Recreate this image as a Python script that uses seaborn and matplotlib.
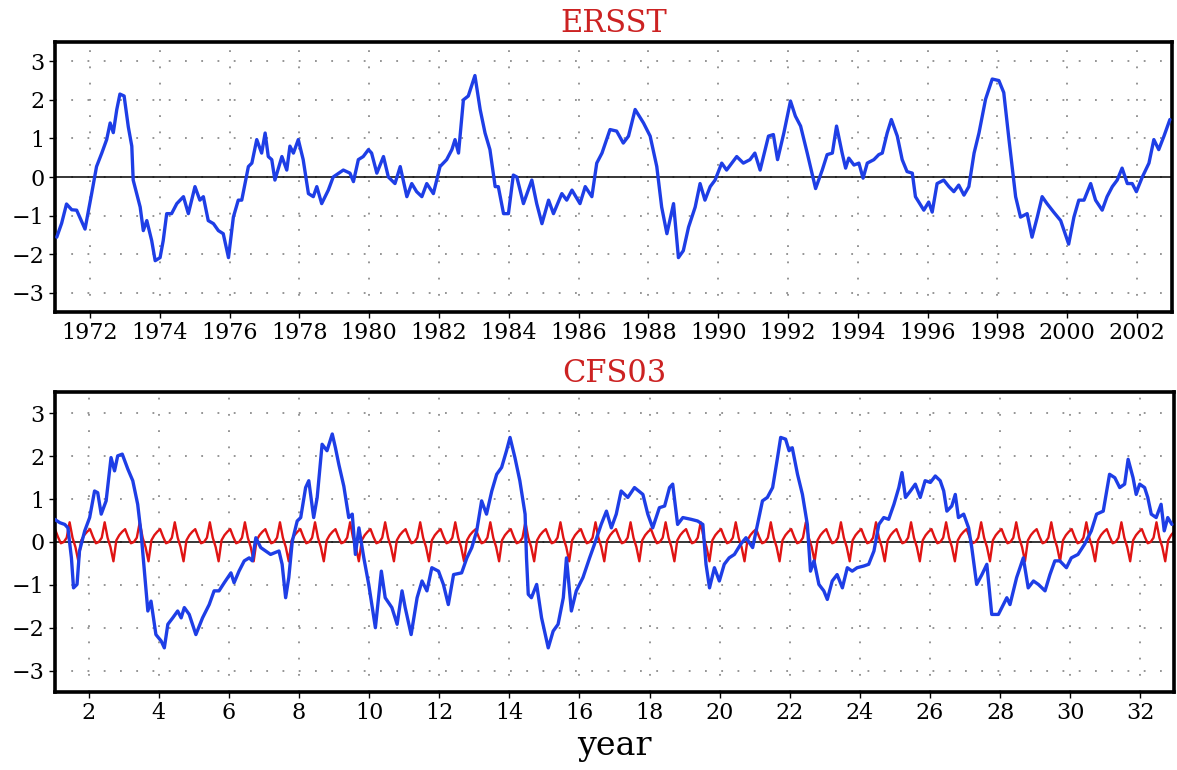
import numpy as np
import pandas as pd
import matplotlib
matplotlib.use("Agg")
import matplotlib.pyplot as plt
import seaborn as sns

# ---------------- data ----------------
# ERSST monthly anomaly (decimal year, value)
ersst_year = [
    1971.05, 1971.19, 1971.33, 1971.48, 1971.62, 1971.86, 1972.05, 1972.19, 1972.34, 1972.48,
    1972.58, 1972.67, 1972.77, 1972.86, 1972.98, 1973.10, 1973.20, 1973.24, 1973.34, 1973.44,
    1973.53, 1973.63, 1973.77, 1973.87, 1974.01, 1974.10, 1974.20, 1974.34, 1974.49, 1974.68,
    1974.82, 1975.01, 1975.15, 1975.25, 1975.39, 1975.54, 1975.68, 1975.82, 1975.97, 1976.11,
    1976.25, 1976.35, 1976.54, 1976.64, 1976.78, 1976.92, 1977.02, 1977.11, 1977.21, 1977.30,
    1977.50, 1977.64, 1977.73, 1977.83, 1977.97, 1978.11, 1978.26, 1978.40, 1978.50, 1978.64,
    1978.83, 1978.97, 1979.26, 1979.45, 1979.55, 1979.69, 1979.83, 1979.98, 1980.07, 1980.22,
    1980.41, 1980.55, 1980.74, 1980.89, 1981.08, 1981.22, 1981.36, 1981.51, 1981.65, 1981.84,
    1982.03, 1982.22, 1982.37, 1982.46, 1982.56, 1982.70, 1982.84, 1983.03, 1983.18, 1983.32,
    1983.46, 1983.61, 1983.70, 1983.85, 1983.99, 1984.13, 1984.23, 1984.42, 1984.66, 1984.80,
    1984.95, 1985.14, 1985.28, 1985.52, 1985.66, 1985.81, 1986.04, 1986.19, 1986.38, 1986.52,
    1986.67, 1986.90, 1987.09, 1987.28, 1987.43, 1987.62, 1987.86, 1988.05, 1988.24, 1988.38,
    1988.53, 1988.72, 1988.86, 1989.00, 1989.15, 1989.34, 1989.48, 1989.62, 1989.77, 1989.91,
    1990.10, 1990.24, 1990.39, 1990.53, 1990.72, 1990.91, 1991.05, 1991.20, 1991.44, 1991.58,
    1991.70, 1991.88, 1992.07, 1992.21, 1992.36, 1992.55, 1992.79, 1992.98, 1993.12, 1993.27,
    1993.39, 1993.55, 1993.65, 1993.74, 1993.89, 1994.03, 1994.15, 1994.27, 1994.46, 1994.60,
    1994.70, 1994.84, 1994.96, 1995.13, 1995.27, 1995.41, 1995.56, 1995.65, 1995.89, 1996.03,
    1996.13, 1996.27, 1996.46, 1996.61, 1996.75, 1996.89, 1997.04, 1997.18, 1997.33, 1997.47,
    1997.66, 1997.85, 1998.04, 1998.18, 1998.33, 1998.42, 1998.52, 1998.66, 1998.85, 1998.99,
    1999.14, 1999.28, 1999.42, 1999.61, 1999.81, 2000.04, 2000.19, 2000.33, 2000.48, 2000.67,
    2000.81, 2001.00, 2001.14, 2001.29, 2001.43, 2001.57, 2001.72, 2001.86, 2001.98, 2002.15,
    2002.34, 2002.48, 2002.62, 2002.77, 2002.94,
]
ersst_value = [
    -1.56, -1.20, -0.70, -0.85, -0.86, -1.35, -0.43, 0.27, 0.62, 0.97,
    1.40, 1.15, 1.75, 2.15, 2.10, 1.30, 0.80, -0.08, -0.43, -0.78,
    -1.39, -1.13, -1.65, -2.17, -2.09, -1.65, -0.95, -0.95, -0.69, -0.51,
    -0.95, -0.25, -0.60, -0.51, -1.13, -1.21, -1.39, -1.47, -2.09, -1.04,
    -0.60, -0.60, 0.27, 0.36, 0.97, 0.62, 1.14, 0.53, 0.45, -0.08,
    0.53, 0.18, 0.80, 0.62, 0.97, 0.45, -0.43, -0.51, -0.25, -0.69,
    -0.34, 0.00, 0.18, 0.10, -0.12, 0.45, 0.53, 0.71, 0.62, 0.10,
    0.53, 0.00, -0.17, 0.27, -0.51, -0.17, -0.38, -0.51, -0.17, -0.43,
    0.27, 0.45, 0.71, 0.97, 0.62, 2.00, 2.10, 2.63, 1.75, 1.14,
    0.71, -0.25, -0.25, -0.95, -0.95, 0.05, 0.00, -0.69, -0.08, -0.69,
    -1.21, -0.60, -0.95, -0.43, -0.60, -0.34, -0.69, -0.25, -0.51, 0.36,
    0.62, 1.23, 1.19, 0.88, 1.06, 1.75, 1.40, 1.06, 0.27, -0.78,
    -1.47, -0.69, -2.09, -1.91, -1.30, -0.78, -0.17, -0.60, -0.25, -0.08,
    0.36, 0.18, 0.36, 0.53, 0.36, 0.45, 0.62, 0.18, 1.06, 1.10,
    0.45, 1.14, 1.97, 1.58, 1.32, 0.62, -0.30, 0.18, 0.58, 0.62,
    1.32, 0.62, 0.23, 0.49, 0.31, 0.36, -0.03, 0.36, 0.45, 0.58,
    0.62, 1.14, 1.49, 1.06, 0.45, 0.14, 0.10, -0.51, -0.86, -0.65,
    -0.91, -0.17, -0.08, -0.25, -0.38, -0.21, -0.47, -0.25, 0.62, 1.14,
    2.02, 2.54, 2.50, 2.19, 0.97, 0.27, -0.51, -1.04, -0.95, -1.56,
    -1.04, -0.51, -0.69, -0.91, -1.13, -1.74, -1.04, -0.60, -0.60, -0.17,
    -0.60, -0.86, -0.51, -0.25, -0.08, 0.23, -0.17, -0.17, -0.38, 0.00,
    0.36, 0.97, 0.71, 1.06, 1.49,
]

# CFS03 simulated anomaly (model year, value)
cfs_year = [
    1.03, 1.18, 1.32, 1.41, 1.51, 1.57, 1.67, 1.74, 1.89, 2.03,
    2.17, 2.26, 2.36, 2.50, 2.64, 2.74, 2.83, 2.96, 3.12, 3.26,
    3.40, 3.50, 3.59, 3.69, 3.78, 3.92, 4.07, 4.16, 4.26, 4.40,
    4.54, 4.64, 4.73, 4.87, 5.06, 5.25, 5.44, 5.58, 5.72, 5.87,
    6.06, 6.15, 6.29, 6.44, 6.58, 6.67, 6.77, 6.91, 7.05, 7.19,
    7.43, 7.52, 7.62, 7.71, 7.81, 7.95, 8.05, 8.19, 8.28, 8.42,
    8.52, 8.66, 8.80, 8.95, 9.04, 9.14, 9.28, 9.42, 9.52, 9.61,
    9.71, 9.85, 9.99, 10.18, 10.35, 10.46, 10.65, 10.80, 10.94, 11.03,
    11.20, 11.37, 11.51, 11.65, 11.79, 11.98, 12.12, 12.26, 12.41, 12.64,
    12.79, 12.93, 13.07, 13.21, 13.35, 13.50, 13.64, 13.78, 13.92, 14.02,
    14.16, 14.30, 14.45, 14.49, 14.54, 14.63, 14.78, 14.92, 15.11, 15.25,
    15.39, 15.54, 15.63, 15.77, 15.91, 16.10, 16.29, 16.43, 16.62, 16.77,
    16.91, 17.05, 17.19, 17.38, 17.57, 17.81, 17.95, 18.09, 18.28, 18.43,
    18.57, 18.66, 18.80, 18.95, 19.18, 19.37, 19.52, 19.61, 19.71, 19.85,
    19.99, 20.13, 20.27, 20.42, 20.60, 20.75, 20.94, 21.08, 21.22, 21.36,
    21.51, 21.65, 21.74, 21.88, 21.98, 22.07, 22.22, 22.36, 22.50, 22.59,
    22.69, 22.83, 22.97, 23.07, 23.21, 23.35, 23.50, 23.64, 23.78, 23.92,
    24.11, 24.25, 24.40, 24.54, 24.68, 24.82, 24.97, 25.11, 25.20, 25.30,
    25.44, 25.58, 25.72, 25.86, 26.01, 26.15, 26.29, 26.39, 26.48, 26.62,
    26.72, 26.81, 26.96, 27.10, 27.19, 27.33, 27.48, 27.62, 27.76, 27.95,
    28.09, 28.19, 28.28, 28.47, 28.66, 28.80, 28.95, 29.09, 29.28, 29.42,
    29.56, 29.70, 29.89, 30.03, 30.22, 30.41, 30.60, 30.75, 30.94, 31.12,
    31.27, 31.41, 31.55, 31.65, 31.79, 31.88, 31.98, 32.12, 32.21, 32.31,
    32.45, 32.59, 32.68, 32.78, 32.90,
]
cfs_value = [
    0.53, 0.45, 0.41, 0.33, -0.37, -1.07, -0.99, -0.21, 0.26, 0.57,
    1.19, 1.15, 0.65, 0.96, 1.97, 1.66, 2.01, 2.05, 1.70, 1.43,
    0.88, 0.18, -0.68, -1.61, -1.38, -2.16, -2.31, -2.47, -1.92, -1.77,
    -1.61, -1.77, -1.53, -1.69, -2.16, -1.77, -1.46, -1.14, -1.14, -0.95,
    -0.72, -0.95, -0.68, -0.44, -0.37, -0.44, 0.10, -0.13, -0.21, -0.29,
    -0.21, -0.52, -1.30, -0.83, 0.02, 0.49, 0.57, 1.27, 1.43, 0.57,
    1.04, 2.28, 2.13, 2.52, 2.20, 1.80, 1.30, 0.57, 0.65, -0.29,
    0.33, -0.37, -0.99, -2.00, -0.68, -1.30, -1.53, -1.92, -1.14, -1.53,
    -2.16, -1.30, -0.91, -1.14, -0.60, -0.68, -0.99, -1.46, -0.76, -0.72,
    -0.37, -0.13, 0.26, 0.96, 0.65, 1.19, 1.58, 1.74, 2.13, 2.44,
    1.97, 1.43, 0.65, -0.37, -1.22, -1.30, -0.99, -1.77, -2.47, -2.08,
    -1.92, -1.30, -0.37, -1.61, -1.14, -0.83, -0.37, -0.05, 0.41, 0.72,
    0.33, 0.65, 1.19, 1.04, 1.27, 1.11, 0.65, 0.33, 0.80, 0.84,
    1.27, 1.35, 0.41, 0.57, 0.53, 0.49, 0.41, -0.52, -1.07, -0.60,
    -0.91, -0.52, -0.37, -0.29, -0.05, 0.10, -0.13, 0.41, 0.96, 1.04,
    1.27, 1.97, 2.44, 2.40, 2.13, 2.20, 1.58, 1.11, 0.41, -0.68,
    -0.44, -0.99, -1.14, -1.34, -0.91, -0.76, -1.07, -0.60, -0.68, -0.60,
    -0.56, -0.52, -0.21, 0.41, 0.57, 0.53, 0.88, 1.27, 1.62, 1.04,
    1.19, 1.35, 1.04, 1.43, 1.39, 1.54, 1.43, 1.19, 0.72, 0.84,
    1.11, 0.57, 0.65, 0.33, -0.13, -0.99, -0.76, -0.52, -1.69, -1.69,
    -1.46, -1.30, -1.46, -0.83, -0.37, -1.07, -0.91, -0.99, -1.14, -0.76,
    -0.44, -0.44, -0.60, -0.37, -0.29, -0.05, 0.26, 0.65, 0.72, 1.58,
    1.50, 1.27, 1.35, 1.93, 1.50, 1.11, 1.35, 1.27, 1.04, 0.65,
    0.57, 0.88, 0.26, 0.57, 0.41,
]

# CFS03 mean annual cycle, Jan..Dec (repeats every model year)
cycle_month = [0.30, 0.12, -0.03, 0.00, 0.10, 0.46, 0.10, -0.12, -0.45, 0.04, 0.16, 0.24]
n_years = 32

top_ticks = list(range(1972, 2003, 2))
bottom_ticks = list(range(2, 33, 2))
y_ticks = [-3, -2, -1, 0, 1, 2, 3]

# ---------------- frames ----------------
ersst = pd.DataFrame({"year": ersst_year, "anom": ersst_value})
cfs = pd.DataFrame({"year": cfs_year, "anom": cfs_value})
clim = pd.DataFrame({
    "year": [1 + (m + 0.5) / 12 for m in range(n_years * 12)],
    "anom": cycle_month * n_years,
})

# ---------------- style ----------------
sns.set_theme(style="white")
plt.rcParams["font.family"] = ["DejaVu Serif", "DejaVu Sans"]
plt.rcParams["axes.unicode_minus"] = True
plt.rcParams["text.color"] = "black"

BLUE = "#1e3ee6"
RED = "#e01414"
TITLE_RED = "#cc2222"
GRID = "#8c8c8c"

fig = plt.figure(figsize=(11.77, 7.70), dpi=100)
W, H = 1177, 770
ax1 = fig.add_axes([55 / W, 1 - 312 / H, (1172 - 55) / W, (312 - 42) / H])
ax2 = fig.add_axes([55 / W, 1 - 692 / H, (1174 - 55) / W, (692 - 392) / H])


def style_axes(ax, ticks, title):
    ax.set_ylim(-3.5, 3.5)
    ax.set_yticks(y_ticks)
    ax.set_xticks(ticks)
    ax.set_xticklabels([str(t) for t in ticks])
    for t in ticks:
        ax.axvline(t, color=GRID, lw=1.3, ls=(0, (1, 8)), zorder=0)
    for v in y_ticks:
        ax.axhline(v, color=GRID, lw=1.3, ls=(0, (1, 8)), zorder=0)
    ax.axhline(0, color="black", lw=1.1, zorder=1)
    for s in ax.spines.values():
        s.set_visible(True)
        s.set_color("black")
        s.set_linewidth(2.6)
    ax.tick_params(axis="both", which="major", direction="out", length=4.5,
                   width=1.0, color="black", labelcolor="black",
                   labelsize=16, pad=3,
                   bottom=True, left=True, top=False, right=False)
    ax.set_xlabel("")
    ax.set_ylabel("")
    ax.set_title(title, color=TITLE_RED, fontsize=22, pad=7)
    ax.grid(False)


sns.lineplot(data=ersst, x="year", y="anom", ax=ax1, color=BLUE, lw=2.4,
             zorder=3, sort=False)
ax1.set_xlim(1971.0, 2003.0)
style_axes(ax1, top_ticks, "ERSST")

sns.lineplot(data=clim, x="year", y="anom", ax=ax2, color=RED, lw=1.7,
             zorder=2, sort=False)
sns.lineplot(data=cfs, x="year", y="anom", ax=ax2, color=BLUE, lw=2.4,
             zorder=3, sort=False)
ax2.set_xlim(clim["year"].iloc[0], clim["year"].iloc[-1])
style_axes(ax2, bottom_ticks, "CFS03")
ax2.set_xlabel("year", fontsize=24, labelpad=4, color="black")

fig.savefig("out.png", dpi=100, facecolor="white")
